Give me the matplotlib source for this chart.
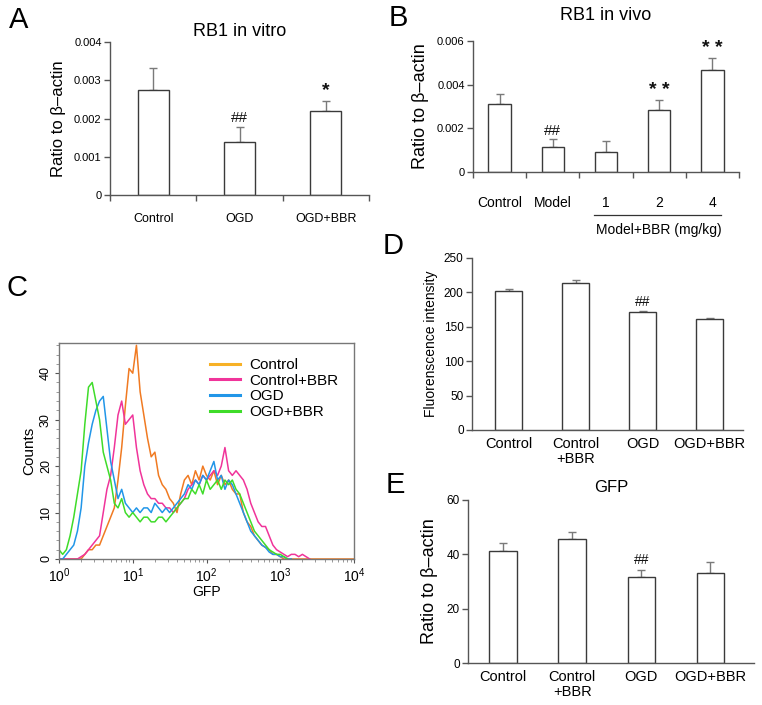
import numpy as np
import matplotlib
matplotlib.use("Agg")
import matplotlib.pyplot as plt
from matplotlib.lines import Line2D
from matplotlib.ticker import FixedLocator, MultipleLocator, LogLocator, NullFormatter
import matplotlib.transforms as mtransforms

plt.rcParams['font.family'] = ['Liberation Sans', 'DejaVu Sans']
plt.rcParams['mathtext.fontset'] = 'custom'
plt.rcParams['mathtext.rm'] = 'Liberation Sans'

W, H = 762, 705

# ---------------- data ----------------
# Panel A
a_categories = ["Control", "OGD", "OGD+BBR"]
a_values = [0.00275, 0.00138, 0.00220]
a_errors = [0.00057, 0.00040, 0.00026]
a_marks = ["", "##", "*"]

# Panel B
b_categories = ["Control", "Model", "1", "2", "4"]
b_values = [0.00312, 0.00115, 0.00092, 0.00285, 0.00466]
b_errors = [0.00043, 0.00036, 0.00050, 0.00043, 0.00057]
b_marks = ["", "##", "", "* *", "* *"]

# Panel C (flow cytometry histograms), log10(GFP) grid step 0.05
c_log_start = 0.0
c_log_step = 0.05
c_control = [0, 0, 0, 0, 0, 0, 0, 1, 2, 2, 3, 3, 5, 7, 9, 11, 17, 24, 33, 41,
             40, 46, 36, 31, 26, 22, 23, 18, 16, 15, 13, 12, 10, 14, 17, 18, 16, 19, 17, 20,
             18, 17, 19, 16, 18, 16, 17, 15, 14, 14, 10, 8, 7, 5, 4, 3, 2.5, 2, 1, 1,
             0.5, 0, 0, 0, 0, 0, 0, 0, 0, 0, 0, 0, 0, 0, 0, 0, 0, 0, 0, 0, 0]
c_control_bbr = [0, 0, 0, 0, 0, 0, 0.5, 1, 2, 3, 4, 5, 10, 15, 18, 24, 31, 34, 29, 30,
                 31, 24, 19, 16, 14, 13, 13, 12, 12, 11, 11, 10, 11, 12, 13, 15, 16, 17, 16, 18,
                 17, 18, 19, 18, 20, 24, 19, 18, 19, 18, 17, 15, 12, 10, 8, 7, 7, 5, 3, 2,
                 1.5, 1, 0.5, 1, 1, 0.5, 1, 0.5, 0]
c_ogd = [0, 0, 1, 2, 3, 6, 11, 20, 25, 29, 32, 34, 35, 28, 21, 17, 13, 15, 12, 11,
         10, 11, 10, 11, 11, 10, 12, 11, 10, 11, 10, 11, 12, 13, 14, 16, 15, 17, 16, 18,
         17, 19, 21, 17, 18, 15, 17, 16, 14, 12, 10, 8, 6, 5, 4, 3, 2.5, 1.5, 1, 1,
         0.5, 0.5, 0, 0]
c_ogd_bbr = [2, 1, 2, 5, 9, 14, 19, 29, 37, 38, 34, 30, 23, 20, 17, 12, 11, 13, 10, 9,
             10, 9, 8, 9, 9, 8, 8, 9, 9, 8, 9, 10, 11, 12, 13, 13, 15, 14, 16, 14,
             17, 15, 16, 17, 15, 17, 16, 17, 15, 14, 12, 10, 8, 6, 5, 4, 3, 2, 1.5, 1,
             1, 0.5, 0]
c_labels = ["Control", "Control+BBR", "OGD", "OGD+BBR"]

# Panel D
d_categories = ["Control", "Control\n+BBR", "OGD", "OGD+BBR"]
d_values = [202, 214, 171, 162]
d_errors = [3, 4, 2, 1.5]
d_marks = ["", "", "##", ""]

# Panel E
e_categories = ["Control", "Control\n+BBR", "OGD", "OGD+BBR"]
e_values = [41.2, 45.6, 31.6, 33.3]
e_errors = [3.0, 2.5, 2.5, 3.7]
e_marks = ["", "", "##", ""]

# ---------------- helpers ----------------
fig = plt.figure(figsize=(W / 100, H / 100), dpi=100)


def box(l, t, r, b):
    return [l / W, 1 - b / H, (r - l) / W, (b - t) / H]


def fxy(x, y):
    return x / W, 1 - y / H


SPINE = '#555555'
EDGE = '#3a3a3a'
ERR = '#7a7a7a'


def bar_panel(ax, cats, vals, errs, marks, width, ylim, yticks, yfmt, mark_off,
              xlim, boundary_ticks, tick_fs, xlab_fs, mark_fs=11):
    x = np.arange(len(cats))
    ax.bar(x, vals, width=width, color='white', edgecolor=EDGE, linewidth=1.0, zorder=2)
    ax.errorbar(x, vals, yerr=[np.zeros(len(vals)), errs], fmt='none', ecolor=ERR,
                elinewidth=1.0, capsize=3, capthick=1.0, zorder=1)
    for xi, v, e, m in zip(x, vals, errs, marks):
        if m:
            if '*' in m:
                ax.text(xi, v + e + mark_off, m, ha='center', va='bottom',
                        fontsize=mark_fs + 3, fontweight='bold', color='#111111')
            else:
                ax.text(xi, v + e + mark_off, m, ha='center', va='bottom',
                        fontsize=mark_fs, color='#111111')
    ax.set_ylim(*ylim)
    ax.set_xlim(*xlim)
    ax.set_yticks(yticks)
    ax.set_yticklabels([yfmt(t) for t in yticks], fontsize=tick_fs)
    for s in ['top', 'right']:
        ax.spines[s].set_visible(False)
    for s in ['left', 'bottom']:
        ax.spines[s].set_color(SPINE)
        ax.spines[s].set_linewidth(1.0)
    ax.tick_params(axis='y', length=4, color=SPINE, width=1.0, pad=2)
    if boundary_ticks:
        ax.set_xticks(np.arange(len(cats) + 1) - 0.5)
        ax.set_xticklabels([])
        ax.set_xticks(x, minor=True)
        ax.set_xticklabels(cats, minor=True, fontsize=xlab_fs)
        ax.tick_params(axis='x', which='major', length=4, color=SPINE, width=1.0)
        ax.tick_params(axis='x', which='minor', length=0)
    else:
        ax.set_xticks(x)
        ax.set_xticklabels(cats, fontsize=xlab_fs, linespacing=1.1)
        ax.tick_params(axis='x', length=0, pad=5)


# ---------------- Panel A ----------------
axA = fig.add_axes(box(110, 42, 369, 195))
bar_panel(axA, a_categories, a_values, a_errors, a_marks, 0.36, (0, 0.004),
          [0, 0.001, 0.002, 0.003, 0.004],
          lambda t: '0' if t == 0 else f'{t:.3f}', 0.00004, (-0.5, 2.5), True, 8, 9)
axA.tick_params(axis='x', which='minor', pad=13)
axA.set_ylabel('Ratio to β–actin', fontsize=12, labelpad=6)
axA.set_title('RB1 in vitro', fontsize=13, pad=4)

# ---------------- Panel B ----------------
axB = fig.add_axes(box(473, 41, 739, 172))
bar_panel(axB, b_categories, b_values, b_errors, b_marks, 0.42, (0, 0.006),
          [0, 0.002, 0.004, 0.006],
          lambda t: '0' if t == 0 else f'{t:.3f}', 0.00006, (-0.5, 4.5), True, 8, 10)
axB.tick_params(axis='x', which='minor', pad=17)
axB.set_ylabel('Ratio to β–actin', fontsize=13, labelpad=6)
axB.set_title('RB1 in vivo', fontsize=13, pad=15)
trB = mtransforms.blended_transform_factory(axB.transData, axB.transAxes)
axB.add_line(Line2D([1.78, 4.17], [-0.328, -0.328], transform=trB, color='#333333',
                    linewidth=0.9, clip_on=False))
axB.text(3.0, -0.44, 'Model+BBR (mg/kg)', transform=trB, ha='center', va='center',
         fontsize=10)

# ---------------- Panel C ----------------
axC = fig.add_axes(box(59, 343, 354, 559))
c_series = [c_control, c_control_bbr, c_ogd, c_ogd_bbr]
c_colors = ['#f07a22', '#f0349a', '#2196e8', '#3fdc2a']
c_legend_colors = ['#f7b126', '#f0349a', '#2196e8', '#3fdc2a']
for vals, col in zip(c_series, c_colors):
    lx = c_log_start + c_log_step * np.arange(len(vals))
    axC.plot(10 ** lx, vals, color=col, linewidth=1.1, zorder=2)
axC.set_xscale('log')
axC.set_xlim(1, 1e4)
axC.set_ylim(0, 46.5)
axC.set_yticks([0, 10, 20, 30, 40])
axC.set_yticklabels(['0', '10', '20', '30', '40'], rotation=90, va='center', fontsize=9)
axC.yaxis.set_minor_locator(MultipleLocator(2))
axC.xaxis.set_major_locator(FixedLocator([1, 10, 100, 1000, 10000]))
axC.set_xticklabels(['$10^0$', '$10^1$', '$10^2$', '$10^3$', '$10^4$'], fontsize=10)
axC.xaxis.set_minor_locator(LogLocator(base=10, subs=np.arange(2, 10)))
axC.xaxis.set_minor_formatter(NullFormatter())
axC.tick_params(axis='both', which='major', length=3, color=SPINE, pad=2)
axC.tick_params(axis='both', which='minor', length=2, color='#888888')
for s in axC.spines.values():
    s.set_color('#777777')
    s.set_linewidth(1.0)
axC.set_ylabel('Counts', fontsize=11, labelpad=3)
axC.set_xlabel('GFP', fontsize=10, labelpad=0)
handles = [Line2D([0], [0], color=c, linewidth=2.2) for c in c_legend_colors]
axC.legend(handles, c_labels, loc='upper right', bbox_to_anchor=(1.0, 1.0), frameon=False,
           fontsize=11, handlelength=2.0, handletextpad=0.6, labelspacing=0.1,
           borderaxespad=0.6)

# ---------------- Panel D ----------------
axD = fig.add_axes(box(472, 258, 743, 430))
bar_panel(axD, d_categories, d_values, d_errors, d_marks, 0.4, (0, 250),
          [0, 50, 100, 150, 200, 250], lambda t: f'{t:g}', 3, (-0.545, 3.5), False, 8.5, 10.5,
          mark_fs=10)
axD.set_ylabel('Fluorenscence intensity', fontsize=10, labelpad=4)

# ---------------- Panel E ----------------
axE = fig.add_axes(box(468, 500, 754, 663))
bar_panel(axE, e_categories, e_values, e_errors, e_marks, 0.4, (0, 60),
          [0, 20, 40, 60], lambda t: f'{t:g}', 1.2, (-0.51, 3.63), False, 8.5, 10.5,
          mark_fs=10)
axE.set_ylabel('Ratio to β–actin', fontsize=13, labelpad=6)
axE.set_title('GFP', fontsize=12, pad=6)

# ---------------- Panel letters ----------------
for letter, (px, py) in zip("ABCDE", [(19, 20), (398, 18), (17, 288), (393, 246), (395, 485)]):
    fig.text(*fxy(px, py), letter, fontsize=21, ha='center', va='center')

fig.savefig('out.png', dpi=100)
